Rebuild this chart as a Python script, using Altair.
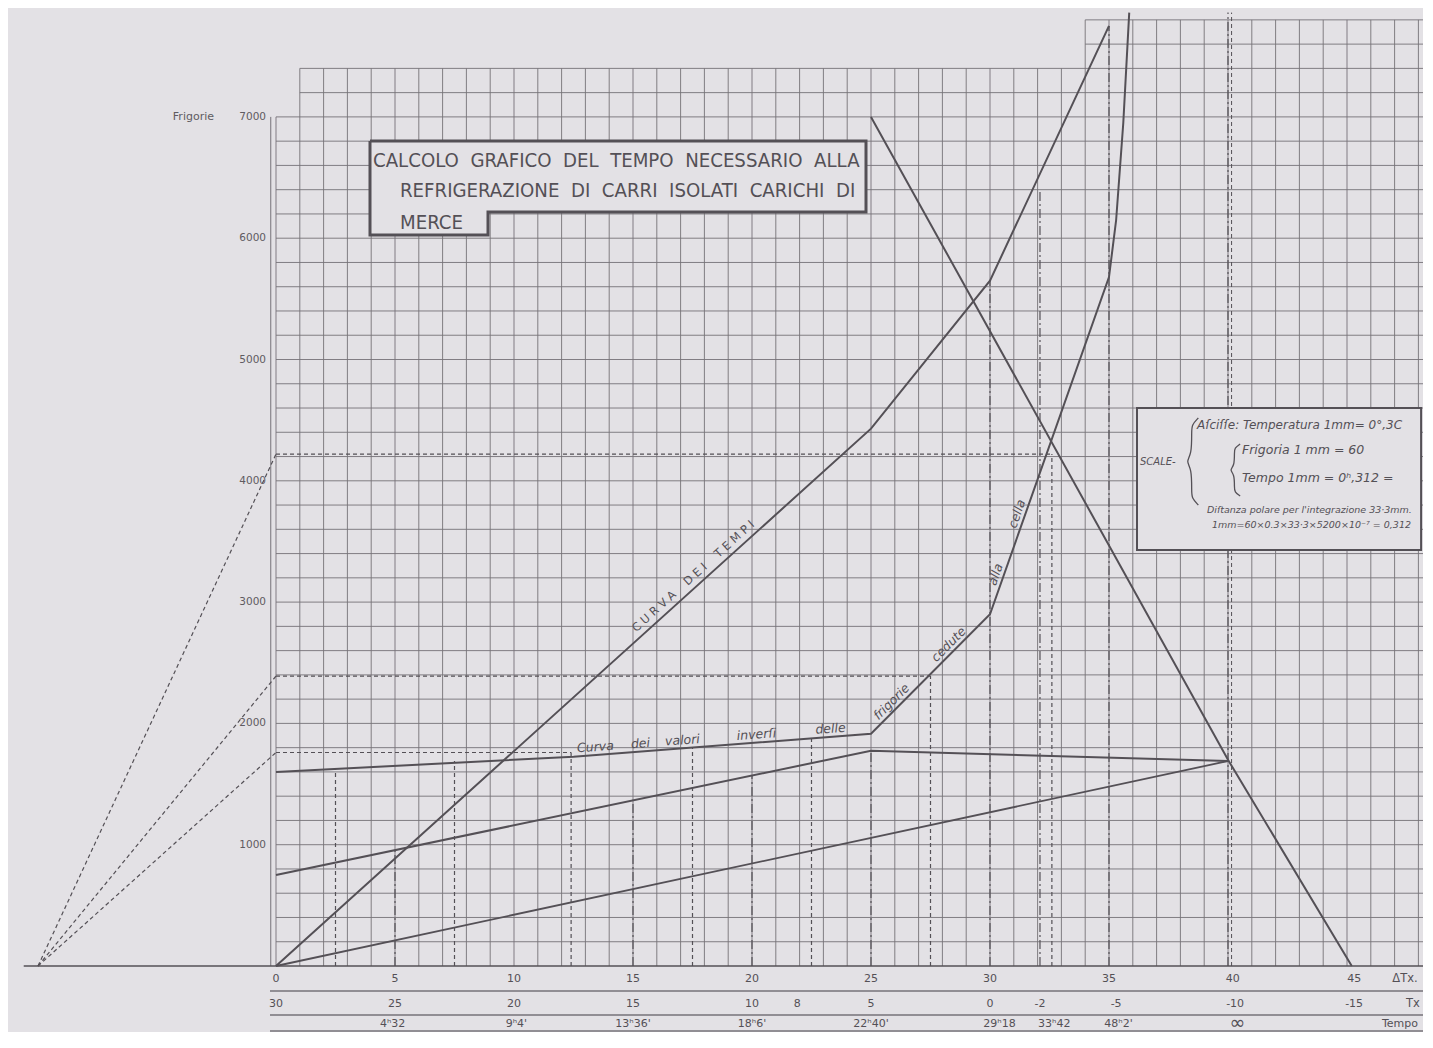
import altair as alt
import numpy as np
import pandas as pd

# ---------------- values (ΔTx , Frigorie) ----------------
tempi_x = [0, 25, 30, 35]                      # Curva dei tempi
tempi_y = [0, 4430, 5650, 7750]
inversi_x = [0, 12.5, 25, 30, 35, 35.3, 35.6, 35.85]   # curva valori inversi frigorie cedute
inversi_y = [1600, 1725, 1915, 2900, 5680, 6150, 6950, 7860]
medio_x = [0, 25, 40]
medio_y = [750, 1775, 1690]
basso_x = [0, 40]
basso_y = [0, 1690]
discesa_x = [25, 40, 45.2]
discesa_y = [7000, 1700, 0]

polo_x = -10                                    # polo dell'integrazione
raggi_y = [4220, 2390, 1760]                    # raggi polari sull'asse
raggi_fine = [32.6, 27.5, 12.4]                 # fine delle orizzontali tratteggiate

tratt_x = [2.5, 7.5, 12.4, 17.5, 22.5, 27.5, 32.6]          # verticali tratteggiate
tratt_top = [1620, 1690, 1760, 1800, 1880, 2390, 4220]
punt_x = [5, 15, 20, 25, 30, 32.1, 35, 40]                  # verticali tratto-punto
punt_top = [960, 1370, 1575, 1775, 5650, 6400, 7750, 7860]

frig_ticks = [1000, 2000, 3000, 4000, 5000, 6000, 7000]
frig_labels = ["1000", "2000", "3000", "4000", "5000", "6000", "7000"]

dT_pos = [0, 5, 10, 15, 20, 25, 30, 35, 40.2, 45.3]
dT_labels = ["0", "5", "10", "15", "20", "25", "30", "35", "40", "45"]
Tx_pos = [0, 5, 10, 15, 20, 21.9, 25, 30, 32.1, 35.3, 40.3, 45.3]
Tx_labels = ["30", "25", "20", "15", "10", "8", "5", "0", "-2", "-5", "-10", "-15"]
tempo_pos = [4.9, 10.1, 15, 20, 25, 30.4, 32.7, 35.4]
tempo_labels = ["4ʰ32", "9ʰ4'", "13ʰ36'", "18ʰ6'", "22ʰ40'", "29ʰ18", "33ʰ42", "48ʰ2'"]
infinito_pos = 40.4

# ---------------- layout ----------------
W, H = 1415, 1024
KX, KY = 23.8, 0.1213          # px per ΔT unit, px per frigoria
X0, Y0 = 276, 966              # page pixel of origin
XMIN = -(X0 - 8) / KX
XMAX = XMIN + W / KX
YMAX = (Y0 - 8) / KY
YMIN = YMAX - H / KY

def fx(px):
    return (px - X0) / KX

def fy(py):
    return (Y0 - py) / KY

NB = "\u00a0"
BG = "#e3e1e5"
GRID = "#767278"
INK = "#545056"
FONT = "DejaVu Sans"
NARROW = "Liberation Sans Narrow, DejaVu Sans Condensed, Arial Narrow, sans-serif"

XS = alt.Scale(domain=[XMIN, XMAX], nice=False, zero=False)
YS = alt.Scale(domain=[YMIN, YMAX], nice=False, zero=False)


def enc_xy():
    return dict(x=alt.X("x:Q", scale=XS, axis=None), y=alt.Y("y:Q", scale=YS, axis=None))


def segs(rows, color=INK, width=1.0, dash=None, opacity=1.0):
    df = pd.DataFrame(rows, columns=["x", "x2", "y", "y2"])
    kw = dict(color=color, strokeWidth=width, opacity=opacity)
    if dash:
        kw["strokeDash"] = dash
    return alt.Chart(df).mark_rule(**kw).encode(x2="x2:Q", y2="y2:Q", **enc_xy())


def path(xs, ys, color=INK, width=2.0, dash=None, interp="linear"):
    df = pd.DataFrame({"x": xs, "y": ys, "i": list(range(len(xs)))})
    kw = dict(color=color, strokeWidth=width, interpolate=interp)
    if dash:
        kw["strokeDash"] = dash
    return alt.Chart(df).mark_line(**kw).encode(order="i:Q", **enc_xy())


def texts(xs, ys, labels, size=11, align="center", angle=0, font=FONT, style="normal",
          color=INK, dy=0, baseline="middle"):
    df = pd.DataFrame({"x": xs, "y": ys, "t": labels})
    kw = dict(fontSize=size, align=align, font=font, fontStyle=style, color=color,
              baseline=baseline, dy=dy)
    if angle:
        kw["angle"] = angle
    return alt.Chart(df).mark_text(**kw).encode(text="t:N", **enc_xy())


def rect(x1, x2, y1, y2, fill=BG, stroke=None, sw=0):
    df = pd.DataFrame({"x": [x1], "x2": [x2], "y": [y1], "y2": [y2]})
    kw = dict(fill=fill, opacity=1)
    if stroke:
        kw.update(stroke=stroke, strokeWidth=sw)
    return alt.Chart(df).mark_rect(**kw).encode(x2="x2:Q", y2="y2:Q", **enc_xy())


def spaced(s, gap=2):
    return (NB * gap).join(s.split(" "))


layers = []

# ---------------- squared paper ----------------
grid_rows = []
for i in range(0, 49):
    if i > XMAX:
        continue
    top = 7000 if i == 0 else (7800 if i >= 34 else 7400)
    grid_rows.append((i, i, 0, top))
for v in range(200, 7401, 200):
    grid_rows.append((0 if v <= 7000 else 1, XMAX, v, v))
for v in (7600, 7800):
    grid_rows.append((34, XMAX, v, v))
layers.append(segs(grid_rows, color=GRID, width=1.0, opacity=0.9))
layers.append(segs([(-0.22, -0.22, 0, 7000)], color=GRID, width=1.0))

# base line and bottom table rules
layers.append(segs([(-10.6, XMAX, 0, 0)], color=INK, width=1.6))
layers.append(segs([(fx(270), XMAX, fy(991), fy(991)),
                    (fx(270), XMAX, fy(1015), fy(1015)),
                    (fx(270), XMAX, fy(1031), fy(1031))], color=GRID, width=1.6))

# ---------------- construction lines ----------------
for r in raggi_y:
    layers.append(path([polo_x, 0], [0, r], width=1.2, dash=[4, 3]))
hor_rows = [(0, e, r, r) for r, e in zip(raggi_y, raggi_fine)]
layers.append(segs(hor_rows, width=1.2, dash=[4, 3]))
layers.append(segs([(x, x, 0, t) for x, t in zip(tratt_x, tratt_top)], width=1.2, dash=[4, 3]))
layers.append(segs([(x, x, 0, t) for x, t in zip(punt_x, punt_top)], width=1.2, dash=[9, 3, 2, 3]))
layers.append(segs([(40.15, 40.15, 0, 7860)], width=1.0, dash=[4, 3]))

# ---------------- curves ----------------
layers.append(path(basso_x, basso_y, width=1.8))
layers.append(path(medio_x, medio_y, width=2.0))
layers.append(path(discesa_x, discesa_y, width=2.0))
layers.append(path(inversi_x, inversi_y, width=2.0))
layers.append(path(tempi_x, tempi_y, width=2.0))

# ---------------- title box ----------------
bx1, bx2, by_top, by_mid, by_bot, bnotch = fx(370), fx(866), fy(141), fy(212), fy(235), fx(488)
layers.append(rect(bx1, bx2, by_mid, by_top))
layers.append(rect(bx1, bnotch, by_bot, by_mid))
layers.append(path([bx1, bx2, bx2, bnotch, bnotch, bx1, bx1],
                   [by_top, by_top, by_mid, by_mid, by_bot, by_bot, by_top], width=3.0))
layers.append(texts([fx(373)], [fy(161)], [spaced("CALCOLO GRAFICO DEL TEMPO NECESSARIO ALLA")],
                    size=20.2, align="left", font=NARROW))
layers.append(texts([fx(400)], [fy(191)], [spaced("REFRIGERAZIONE DI CARRI ISOLATI CARICHI DI")],
                    size=20.2, align="left", font=NARROW))
layers.append(texts([fx(400)], [fy(223)], ["MERCE"], size=20.2, align="left", font=NARROW))

# ---------------- scale box ----------------
sx1, sx2, sy1, sy2 = fx(1137), XMAX - 0.08, fy(550), fy(408)
layers.append(rect(sx1, sx2, sy1, sy2, stroke=INK, sw=2.0))


def brace(xc, top, bot, w):
    mid = (top + bot) / 2
    d = (top - bot) * 0.08
    xs = [xc + w, xc + 0.2 * w, xc + 0.2 * w, xc + 0.2 * w, xc - 0.5 * w,
          xc + 0.2 * w, xc + 0.2 * w, xc + 0.2 * w, xc + w]
    ys = [top, top - d, top - 2 * d, mid + d, mid, mid - d, bot + 2 * d, bot + d, bot]
    return path(xs, ys, width=1.3, interp="basis")


layers.append(brace(fx(1190), fy(418), fy(505), 0.35))
layers.append(brace(fx(1233), fy(444), fy(496), 0.3))
layers.append(texts([fx(1140)], [fy(462)], ["SCALE-"], size=10, align="left", style="italic"))
layers.append(texts([fx(1197)], [fy(425)], ["Aſciſſe: Temperatura 1mm= 0°,3C"],
                    size=12, align="left", style="italic"))
layers.append(texts([fx(1242), fx(1242)], [fy(450), fy(478)],
                    ["Frigoria 1 mm = 60", "Tempo 1mm = 0ʰ,312 ="], size=12.5, align="left", style="italic"))
layers.append(texts([fx(1207), fx(1212)], [fy(510), fy(525)],
                    ["Diſtanza polare per l'integrazione 33·3mm.",
                     "1mm=60×0.3×33·3×5200×10⁻⁷ = 0,312"], size=9.5, align="left", style="italic"))

# ---------------- curve labels ----------------
xc = 17.8
curva_lbl = (NB * 4).join(NB.join(list(w)) for w in ["CURVA", "DEI", "TEMPI"])
layers.append(texts([xc], [float(np.interp(xc, tempi_x, tempi_y))], [curva_lbl],
                    size=11.5, angle=318, dy=-9))
inv_words = ["Curva", "dei", "valori", "inverſi", "delle"]
inv_pos = [fx(596), fx(641), fx(683), fx(757), fx(831)]
layers.append(texts(inv_pos, [float(np.interp(p, inversi_x, inversi_y)) for p in inv_pos], inv_words,
                    size=12.5, angle=356, dy=-8, style="italic"))
fc_pos = [26.1, 28.5]
layers.append(texts(fc_pos, [float(np.interp(p, inversi_x, inversi_y)) for p in fc_pos],
                    ["frigorie", "cedute"], size=12.5, angle=315, dy=-8, style="italic"))
ac_pos = [30.55, 31.45]
layers.append(texts(ac_pos, [float(np.interp(p, inversi_x, inversi_y)) for p in ac_pos],
                    ["alla", "cella"], size=12.5, angle=289, dy=-8, style="italic"))

# ---------------- axis labels ----------------
layers.append(texts([fx(266)] * len(frig_ticks), frig_ticks, frig_labels, size=10.5, align="right",
                    color="#5f5b61"))
layers.append(texts([fx(214)], [7000], ["Frigorie"], size=11, align="right", color="#5f5b61"))
layers.append(texts(dT_pos, [fy(979)] * len(dT_pos), dT_labels, size=11))
layers.append(texts(Tx_pos, [fy(1004)] * len(Tx_pos), Tx_labels, size=11))
layers.append(texts(tempo_pos, [fy(1024)] * len(tempo_pos), tempo_labels, size=11))
layers.append(texts([infinito_pos], [fy(1023)], ["∞"], size=19))
layers.append(texts([fx(1405), fx(1413)], [fy(979), fy(1004)], ["ΔTx.", "Tx"], size=11.5))
layers.append(texts([fx(1418)], [fy(1024)], ["Tempo"], size=11, align="right"))

chart = alt.layer(*layers).properties(
    width=W, height=H, padding=0,
    autosize=alt.AutoSizeParams(type="none"),
).configure(background=BG).configure_view(stroke=None, fill=BG)

chart.save("out.html", embed_options={"renderer": "svg", "actions": False})
